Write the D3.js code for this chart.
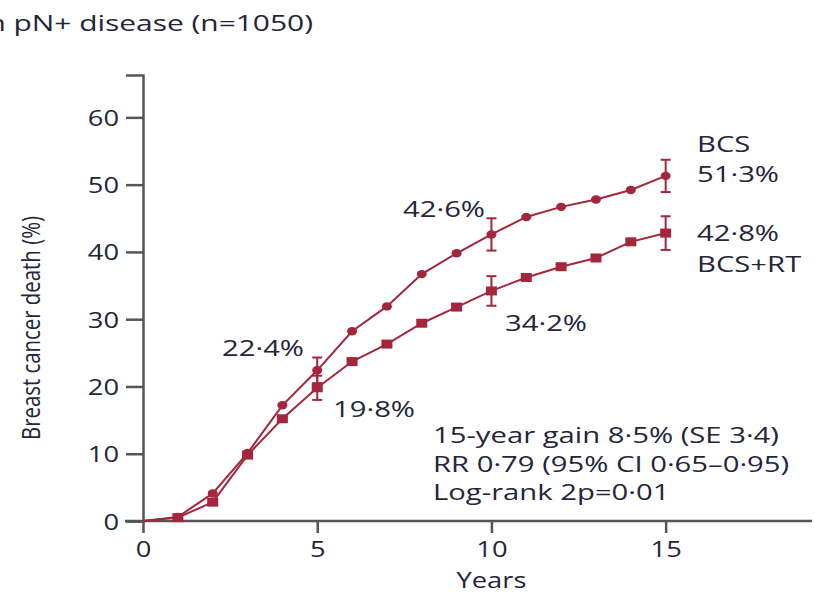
<!DOCTYPE html>
<html>
<head>
<meta charset="utf-8">
<script src="https://cdn.jsdelivr.net/npm/d3@7"></script>
<style>
  body { margin: 0; background: #fff; }
  text { font-family: "Open Sans", "DejaVu Sans", sans-serif; fill: #23253a; }
</style>
</head>
<body>
<div id="chart"></div>
<script>
// years of follow-up
var years = [0, 1, 2, 3, 4, 5, 6, 7, 8, 9, 10, 11, 12, 13, 14, 15];
// breast cancer death (%) by year
var bcs = [0, 0.6, 4.1, 10.1, 17.2, 22.4, 28.2, 31.9, 36.7, 39.8, 42.6, 45.2, 46.7, 47.8, 49.2, 51.3];
var bcsRt = [0, 0.5, 2.8, 9.8, 15.2, 19.8, 23.7, 26.3, 29.4, 31.8, 34.2, 36.2, 37.8, 39.1, 41.5, 42.8];
// error bars at 5, 10, 15 years
var errYears = [5, 10, 15];
var bcsErr = [1.9, 2.4, 2.4];
var bcsRtErr = [1.8, 2.2, 2.5];

var xTicks = [0, 5, 10, 15];
var yTicks = [0, 10, 20, 30, 40, 50, 60];

var width = 815;
var height = 594;
var red = "#a3263c";
var stretch = 1.3; // the source picture is squeezed wider than tall

var svg = d3.select("#chart").append("svg")
  .attr("width", width)
  .attr("height", height);

var x = d3.scaleLinear().domain([0, 19.2]).range([143, 812]);
var y = d3.scaleLinear().domain([0, 66.3]).range([521, 75]);

// text drawn with a horizontal stretch like the source
function wideText(px, py, str, size, anchor, sx) {
  return svg.append("text")
    .attr("transform", "translate(" + px + "," + py + ") scale(" + (sx || stretch) + ",1)")
    .attr("text-anchor", anchor || "start")
    .style("font-size", size + "px")
    .text(str);
}

// title (cut off on the left like the source)
wideText(313, 31, "in pN+ disease (n=1050)", 22, "end", 1.36);

// axes
var xAxis = svg.append("g")
  .attr("transform", "translate(0," + y(0) + ")")
  .call(d3.axisBottom(x).tickValues(xTicks).tickSize(12));
var yAxis = svg.append("g")
  .attr("transform", "translate(" + x(0) + ",0)")
  .call(d3.axisLeft(y).tickValues(yTicks).tickSize(17));

[xAxis, yAxis].forEach(function (g) {
  g.select(".domain").attr("stroke", "#555").attr("stroke-width", 2.5);
  g.selectAll(".tick line").attr("stroke", "#555").attr("stroke-width", 2.5);
  g.selectAll(".tick text")
    .style("font-size", "21px")
    .style("font-family", "'Open Sans', sans-serif")
    .attr("fill", "#23253a")
    .attr("x", 0).attr("y", 0).attr("dy", null);
});
xAxis.select(".domain").attr("d", "M125,0H812");
xAxis.selectAll(".tick text")
  .attr("transform", "translate(0,36) scale(" + stretch + ",1)");
yAxis.selectAll(".tick text")
  .attr("transform", "translate(-24,8) scale(" + stretch + ",1)");

wideText(x(10), 588, "Years", 21, "middle");

svg.append("text")
  .attr("transform", "translate(40,328) rotate(-90) scale(1," + stretch + ")")
  .attr("text-anchor", "middle")
  .style("font-size", "19px")
  .attr("textLength", 224)
  .attr("lengthAdjust", "spacingAndGlyphs")
  .text("Breast cancer death (%)");

var line = d3.line()
  .x(function (d, i) { return x(years[i]); })
  .y(function (d) { return y(d); });

svg.append("path").datum(bcs)
  .attr("fill", "none").attr("stroke", red).attr("stroke-width", 2)
  .attr("d", line);
svg.append("path").datum(bcsRt)
  .attr("fill", "none").attr("stroke", red).attr("stroke-width", 2)
  .attr("d", line);

// error bars
function errorBars(values, errs) {
  var g = svg.append("g").attr("stroke", red).attr("stroke-width", 2);
  errYears.forEach(function (yr, i) {
    var v = values[years.indexOf(yr)];
    var cx = x(yr);
    g.append("line").attr("x1", cx).attr("x2", cx)
      .attr("y1", y(v - errs[i])).attr("y2", y(v + errs[i]));
    g.append("line").attr("x1", cx - 5).attr("x2", cx + 5)
      .attr("y1", y(v - errs[i])).attr("y2", y(v - errs[i]));
    g.append("line").attr("x1", cx - 5).attr("x2", cx + 5)
      .attr("y1", y(v + errs[i])).attr("y2", y(v + errs[i]));
  });
}
errorBars(bcs, bcsErr);
errorBars(bcsRt, bcsRtErr);

// markers
svg.append("g").selectAll("ellipse")
  .data(bcs.slice(1))
  .join("ellipse")
  .attr("cx", function (d, i) { return x(years[i + 1]); })
  .attr("cy", function (d) { return y(d); })
  .attr("rx", 5)
  .attr("ry", 4.2)
  .attr("fill", red);

svg.append("g").selectAll("rect")
  .data(bcsRt.slice(1))
  .join("rect")
  .attr("x", function (d, i) { return x(years[i + 1]) - 5.5; })
  .attr("y", function (d) { return y(d) - 4.5; })
  .attr("width", 11)
  .attr("height", 9)
  .attr("fill", red);

// annotations
var labels = [
  { t: "BCS", x: 697, y: 152 },
  { t: "51·3%", x: 697, y: 182 },
  { t: "42·8%", x: 697, y: 241 },
  { t: "BCS+RT", x: 697, y: 272 },
  { t: "42·6%", x: 403, y: 217 },
  { t: "34·2%", x: 505, y: 331 },
  { t: "22·4%", x: 222, y: 356 },
  { t: "19·8%", x: 333, y: 417 },
  { t: "15-year gain 8·5% (SE 3·4)", x: 433, y: 443 },
  { t: "RR 0·79 (95% CI 0·65–0·95)", x: 433, y: 472 },
  { t: "Log-rank 2p=0·01", x: 433, y: 500 }
];
labels.forEach(function (d) {
  wideText(d.x, d.y, d.t, 22, "start", 1.33);
});
</script>
</body>
</html>
